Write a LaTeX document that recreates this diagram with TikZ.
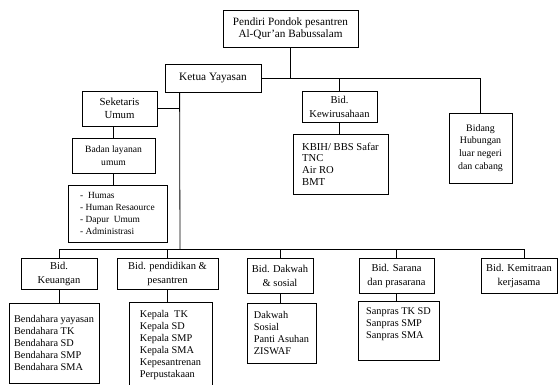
\documentclass[tikz,border=0pt]{standalone}
\usepackage{fontspec}
\setmainfont{Liberation Serif}
\usetikzlibrary{positioning}

\begin{document}
\begin{tikzpicture}[
        x=1pt, y=-1pt,
        unit/.style={rectangle, draw=black, align=center, inner sep=2pt,
                     line width=0.8pt, font=\fontsize{10.5}{14}\selectfont},
        listbox/.style={rectangle, draw=black, align=left, inner sep=2pt,
                        line width=0.8pt, font=\fontsize{10.3}{11.9}\selectfont},
        link/.style={line width=0.8pt}
    ]
        \useasboundingbox (0,0) rectangle (558,385);

        \node[unit, minimum width=135pt, minimum height=37pt, font=\fontsize{11.2}{12.9}\selectfont] (pendiri) at (290.5,28.5) {Pendiri Pondok pesantren \\ Al-Qur’an Babussalam};
        \node[unit, minimum width=96pt, minimum height=28pt, font=\fontsize{11.3}{13}\selectfont] (ketua) at (213,78) {Ketua Yayasan};

        \node[unit, minimum width=75pt, minimum height=35pt, font=\fontsize{10.8}{13}\selectfont] (sekum) at (119.5,108.5) {Seketaris \\ Umum};
        \node[unit, minimum width=83pt, minimum height=35pt, font=\fontsize{9.6}{12.7}\selectfont] (badan) at (113.5,155.5) {Badan layanan \\ umum};
        \node[listbox, minimum width=99pt, minimum height=57pt, font=\fontsize{9.4}{11.7}\selectfont] (umum-list) at (117.5,213.5) {-\ \ Humas \\ - Human Resaource \\ - Dapur\ \ Umum \\ - Administrasi};

        \node[unit, minimum width=75pt, minimum height=31pt] (kewira) at (339.5,106.5) {Bid. \\ Kewirusahaan};
        \node[listbox, minimum width=95pt, minimum height=60pt, font=\fontsize{10.6}{11.8}\selectfont] (kewira-list) at (340.5,164) {KBIH/ BBS Safar \\ TNC \\ Air RO \\ BMT};
        \node[unit, minimum width=63pt, minimum height=70pt, font=\fontsize{9.9}{12.9}\selectfont] (hubungan) at (480.5,148) {Bidang \\ Hubungan \\ luar negeri \\ dan cabang};

        \node[unit, minimum width=76pt, minimum height=31pt] (keu) at (59,273.5) {Bid. \\ Keuangan};
        \node[unit, minimum width=101pt, minimum height=31pt] (didik) at (167.5,273.5) {Bid. pendidikan \& \\ pesantren};
        \node[unit, minimum width=66pt, minimum height=35pt] (dakwah) at (280,275.5) {Bid. Dakwah \\ \& sosial};
        \node[unit, minimum width=75pt, minimum height=35pt] (sarana) at (396.5,275.5) {Bid. Sarana \\ dan prasarana};
        \node[unit, minimum width=76pt, minimum height=35pt] (mitra) at (519,275.5) {Bid. Kemitraan \\ kerjasama};

        \node[listbox, minimum width=90pt, minimum height=80pt] (keu-list) at (54,343) {Bendahara yayasan \\ Bendahara TK \\ Bendahara SD \\ Bendahara SMP \\ Bendahara SMA};
        \node[listbox, anchor=north, minimum width=83pt, inner ysep=8pt] (didik-list) at (170.5,302) {Kepala\ \ TK \\ Kepala SD \\ Kepala SMP \\ Kepala SMA \\ Kepesantrenan \\ Perpustakaan};
        \node[listbox, minimum width=69pt, minimum height=60pt] (dakwah-list) at (281.5,333) {Dakwah \\ Sosial \\ Panti Asuhan \\ ZISWAF};
        \node[listbox, minimum width=81pt, minimum height=59pt] (sarana-list) at (398.5,330.5) {Sanpras TK SD \\ Sanpras SMP \\ Sanpras SMA \\ \strut};

        % top level
        \draw[link] (pendiri.south) -- (pendiri.south |- ketua.east);
        \draw[link] (ketua.east) -- (hubungan.north |- ketua.east) -- (hubungan.north);
        \draw[link] (kewira.north) -- (kewira.north |- ketua.east);
        \draw[link] (kewira.south) -- (kewira.south |- kewira-list.north);

        % sekretariat
        \coordinate (trunk) at ([xshift=15pt]ketua.south west);
        \coordinate (bus) at (180,249);
        \draw[link] (trunk) -- (bus);
        \draw[link] (sekum.east) -- (sekum.east -| trunk);
        \draw[link] (badan.north) -- (badan.north |- sekum.south);
        \draw[link] (badan.south) -- (badan.south |- umum-list.north);

        % bidang
        \draw[link] (keu.north) -- (keu.north |- bus) -- ([xshift=5pt]mitra.north |- bus) -- ([xshift=5pt]mitra.north);
        \foreach \b in {didik, dakwah, sarana}
            \draw[link] (\b.north) -- (\b.north |- bus);
        \foreach \b in {keu, didik, dakwah, sarana}
            \draw[link] (\b.south) -- (\b.south |- \b-list.north);
    \end{tikzpicture}
\end{document}
